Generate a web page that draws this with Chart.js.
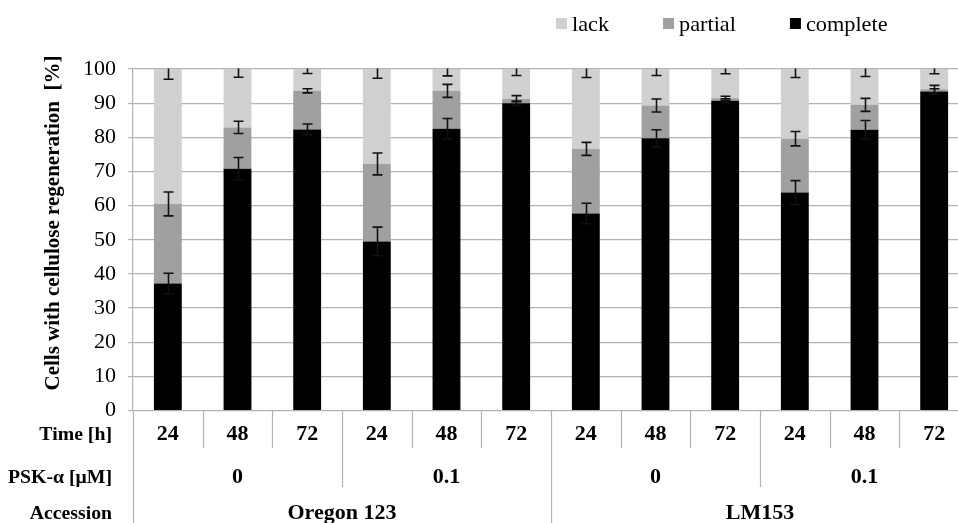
<!DOCTYPE html>
<html><head><meta charset="utf-8">
<script src="https://cdn.jsdelivr.net/npm/chart.js@4.4.1/dist/chart.umd.min.js"></script>
<style>
html,body{margin:0;padding:0;background:#fff;overflow:hidden;width:958px;height:523px}
#wrap{position:absolute;left:0;top:0;width:976px;height:523px}
canvas{display:block}
</style></head><body>
<div id="wrap"><canvas id="c" width="976" height="523"></canvas></div>
<script>
// ---- data ----
const times = ['24','48','72','24','48','72','24','48','72','24','48','72'];
const pskGroups = ['0','0.1','0','0.1'];
const accessions = ['Oregon 123','LM153'];
const rowTitles = ['Time [h]','PSK-α [μM]','Accession'];
const yTitle = 'Cells with cellulose regeneration  [%]';
const yTicks = [0,10,20,30,40,50,60,70,80,90,100];

const complete = [37.2, 70.8, 82.3, 49.5, 82.5, 90.0, 57.7, 79.7, 90.7, 63.8, 82.2, 93.4];
const partial  = [23.3, 12.1, 11.3, 22.7, 11.1,  1.3, 18.9,  9.6,  0.7, 15.8,  7.3,  0.7];
const lack     = [39.5, 17.1,  6.4, 27.8,  6.4,  8.7, 23.4, 10.7,  8.6, 20.4, 10.5,  5.9];

const completeErr = [3.0, 3.3, 1.6, 4.2, 3.0, 0.6, 3.0, 2.5, 0.6, 3.5, 2.7, 0.8];
const partialErr  = [3.5, 1.8, 0.6, 3.2, 1.9, 0.9, 1.9, 1.9, 0.6, 2.1, 1.9, 1.1];
const lackErr     = [3.0, 2.4, 1.3, 2.7, 2.0, 1.9, 2.5, 1.9, 1.4, 2.5, 2.2, 1.4];

const SERIF = "'Liberation Serif','Times New Roman',serif";
const GRID = '#b3b3b3';

function txt(ctx, s, x, y, align, font, sx) {
  ctx.save();
  ctx.translate(x, y);
  ctx.scale(sx, 1);
  ctx.font = font;
  ctx.textAlign = align;
  ctx.textBaseline = 'alphabetic';
  ctx.fillText(s, 0, 0);
  ctx.restore();
}

const custom = {
  id: 'custom',
  afterDatasetsDraw(chart) {
    const {ctx, chartArea: a, scales: {x, y}} = chart;
    ctx.save();
    ctx.beginPath(); ctx.rect(a.left, a.top - 0.5, a.right - a.left, a.bottom - a.top + 0.5); ctx.clip();
    ctx.strokeStyle = '#111'; ctx.lineWidth = 1.6;
    const sets = [[complete, completeErr], [partial, partialErr], [lack, lackErr]];
    for (let i = 0; i < times.length; i++) {
      let cum = 0;
      const cx = Math.round(x.getPixelForValue(i)) + 0.5;
      sets.forEach(([vals, errs]) => {
        cum += vals[i];
        const y1 = y.getPixelForValue(cum + errs[i]);
        const y2 = y.getPixelForValue(cum - errs[i]);
        ctx.beginPath();
        ctx.moveTo(cx, y1); ctx.lineTo(cx, y2);
        ctx.moveTo(cx - 5, y1); ctx.lineTo(cx + 5, y1);
        ctx.moveTo(cx - 5, y2); ctx.lineTo(cx + 5, y2);
        ctx.stroke();
      });
    }
    ctx.restore();
  },
  afterDraw(chart) {
    const {ctx, chartArea: a, scales: {x}} = chart;
    const w = x.getPixelForValue(1) - x.getPixelForValue(0);
    const bound = k => x.getPixelForValue(k) - w / 2;
    ctx.save();
    // separators
    ctx.strokeStyle = GRID; ctx.lineWidth = 1.2;
    for (let k = 0; k <= times.length; k++) {
      const bx = Math.round(bound(k)) + 0.5;
      const end = k % 6 === 0 ? 523 : (k % 3 === 0 ? 487 : 448);
      ctx.beginPath(); ctx.moveTo(bx, a.bottom); ctx.lineTo(bx, end); ctx.stroke();
    }
    // labels
    ctx.fillStyle = '#000';
    const catFont = 'bold 21px ' + SERIF;
    times.forEach((t, i) => txt(ctx, t, x.getPixelForValue(i), 440, 'center', catFont, 1.05));
    pskGroups.forEach((g, j) => txt(ctx, g, x.getPixelForValue(j * 3 + 1), 483, 'center', catFont, 1.05));
    accessions.forEach((g, j) => txt(ctx, g, (bound(j * 6) + bound(j * 6 + 6)) / 2, 519, 'center', catFont, 1.05));
    const rowFont = 'bold 19px ' + SERIF;
    txt(ctx, rowTitles[0], 112, 440, 'right', rowFont, 1.04);
    txt(ctx, rowTitles[1], 112, 483, 'right', rowFont, 1.04);
    txt(ctx, rowTitles[2], 112, 519, 'right', rowFont, 1.04);
    // y title
    ctx.save();
    ctx.translate(59, 223); ctx.rotate(-Math.PI / 2);
    ctx.font = 'bold 21px ' + SERIF;
    ctx.textAlign = 'center'; ctx.textBaseline = 'alphabetic';
    ctx.fillText(yTitle, 0, 0);
    ctx.restore();
    // legend (reverse dataset order)
    const legFont = '21px ' + SERIF;
    ctx.font = legFont;
    let lx = 556;
    chart.data.datasets.slice().reverse().forEach(ds => {
      ctx.fillStyle = ds.backgroundColor;
      ctx.fillRect(lx, 18, 11, 11);
      ctx.fillStyle = '#000';
      txt(ctx, ds.label, lx + 16, 30.5, 'left', legFont, 1.06);
      ctx.font = legFont;
      lx += 16 + ctx.measureText(ds.label).width * 1.06 + 54;
    });
    ctx.restore();
  }
};

new Chart(document.getElementById('c'), {
  type: 'bar',
  data: {
    labels: times,
    datasets: [
      {label: 'complete', data: complete, backgroundColor: '#000000'},
      {label: 'partial', data: partial, backgroundColor: '#a0a0a0'},
      {label: 'lack', data: lack, backgroundColor: '#d0d0d0'}
    ]
  },
  options: {
    responsive: false,
    devicePixelRatio: 1,
    animation: false,
    layout: {padding: {top: 69, bottom: 112.5, left: 0, right: 7}},
    datasets: {bar: {categoryPercentage: 1, barPercentage: 0.4, borderWidth: 0}},
    plugins: {legend: {display: false}, tooltip: {enabled: false}},
    scales: {
      x: {stacked: true, display: false},
      y: {
        stacked: true, min: 0, max: 100,
        afterFit: s => { s.width = 133; },
        afterBuildTicks: s => { s.ticks = yTicks.map(v => ({value: v})); },
        ticks: {color: '#000', font: {family: SERIF, size: 22}, padding: 12},
        grid: {color: GRID, lineWidth: 1.2, tickLength: 5, drawTicks: true},
        border: {color: GRID, width: 1.2}
      }
    }
  },
  plugins: [custom]
});
</script>
</body></html>
